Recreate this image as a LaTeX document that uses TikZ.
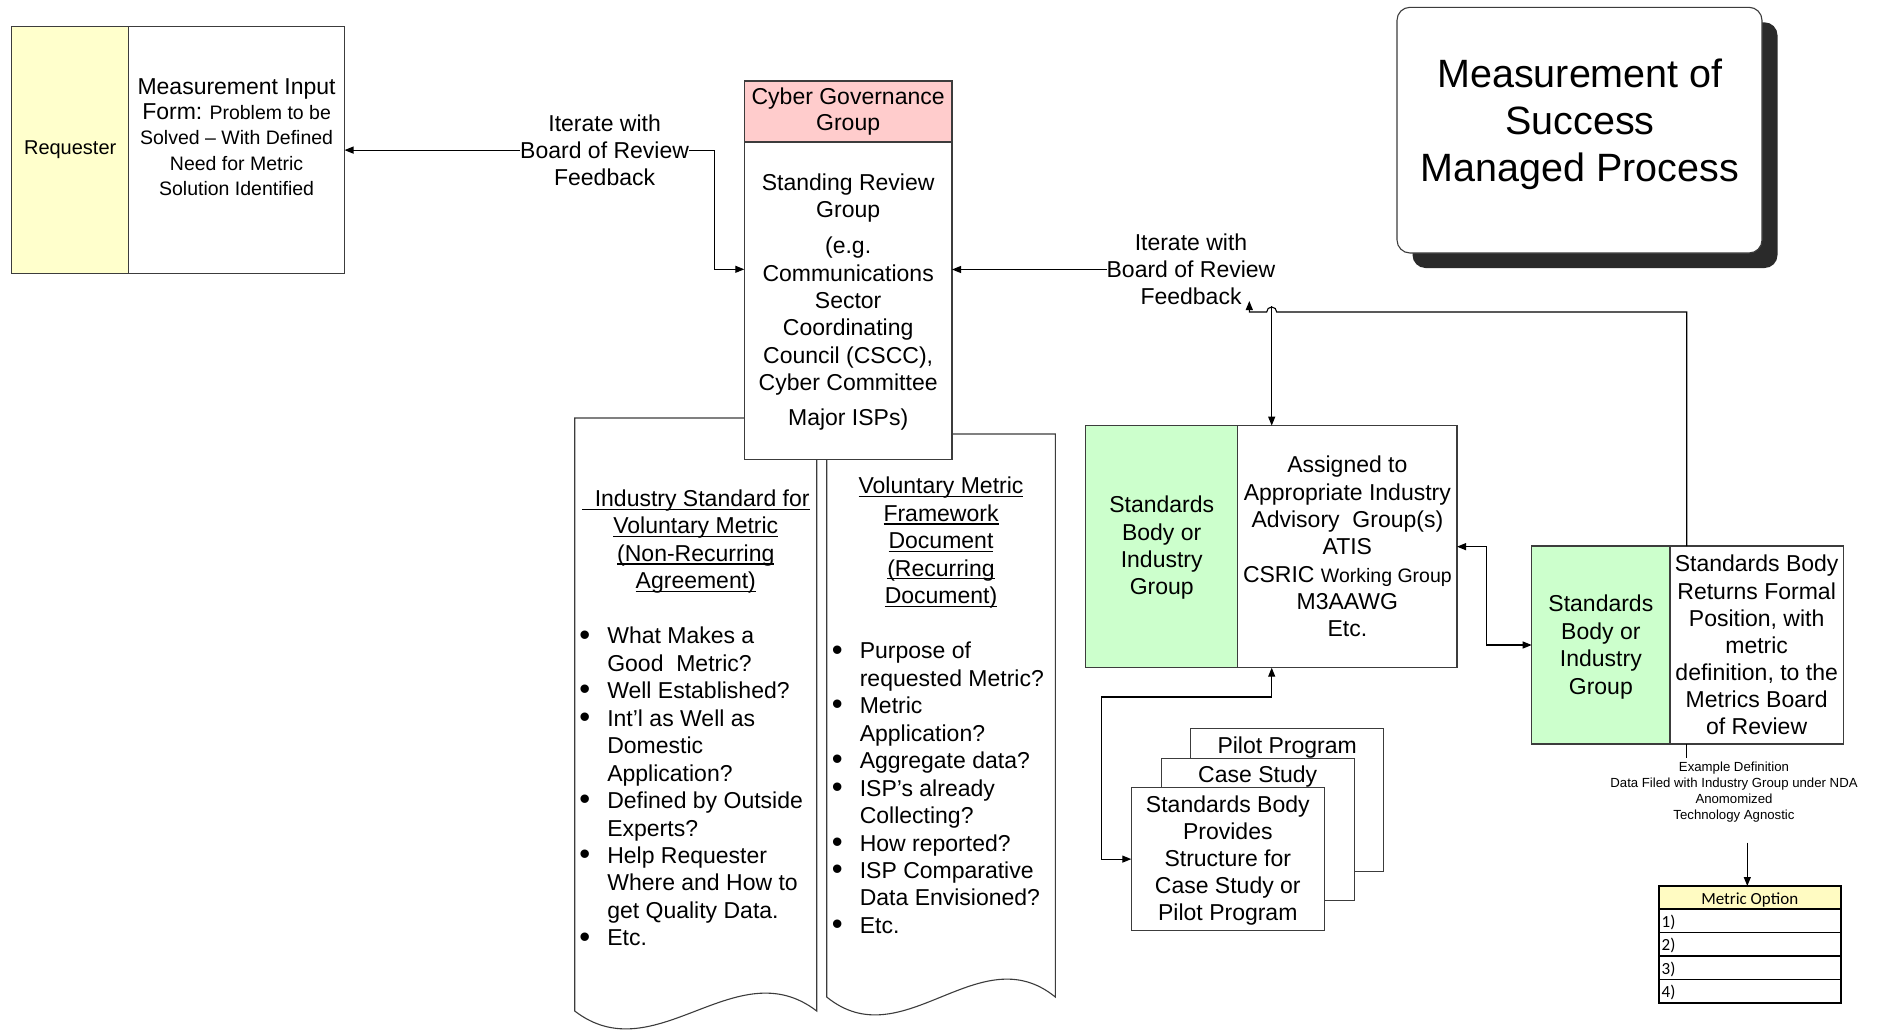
\documentclass[tikz,border=0pt]{standalone}
\usepackage{fontspec}
\setmainfont{Liberation Sans}
\newfontfamily\tablefont{Carlito}
\usetikzlibrary{arrows.meta,calc}

\definecolor{edge}{HTML}{3C3C3C}
\definecolor{reqyellow}{HTML}{FFFFCC}
\definecolor{govpink}{HTML}{FFCCCC}
\definecolor{stdgreen}{HTML}{CCFFCC}
\definecolor{optyellow}{HTML}{FFFBC2}
\definecolor{cardshadow}{HTML}{2A2A2A}

\newcommand\fsz[2]{\fontsize{#1}{#2}\selectfont}
\newcommand\bitem{\makebox[28pt][l]{\raisebox{-1.2pt}{\scalebox{1.35}{\textbullet}}}}
\newcommand\bcont{\hspace*{28pt}}
% underline at a fixed depth below the baseline
\newcommand\ulin[1]{\setbox0\hbox{#1}\rlap{\rule[-3.2pt]{\wd0}{1.1pt}}\box0}

\begin{document}
\begin{tikzpicture}[x=1pt,y=-1pt,
  every node/.style={inner sep=0pt, outer sep=0pt},
  cell/.style={draw=edge, line width=1.1pt, rectangle, align=center,
               font=\fsz{23}{27.3}},
  lbl/.style={align=center, font=\fsz{23}{27}, fill=white},
  body/.style={align=center, font=\fsz{23}{27.4}},
  list/.style={align=left, font=\fsz{23}{27.45}, anchor=north west},
  doc/.style={draw=edge, line width=1.1pt, fill=white},
  conn/.style={draw=black, line width=1.1pt},
  optrow/.style={draw=black, line width=1.6pt, minimum width=182pt,
                 minimum height=23.4pt, text width=176pt, align=left,
                 text height=14pt, text depth=1pt,
                 font=\tablefont\fsz{17}{20}},
  >={Triangle[length=9pt,width=7pt]}]

\useasboundingbox (0,0) rectangle (1877,1029);
\fill[white] (0,0) rectangle (1877,1029);

% ---- requester and input form
\node[cell, fill=reqyellow, minimum width=117pt, minimum height=246.8pt,
      font=\fsz{20}{24}] (req) at (70.2,150.1) {Requester};
\node[cell, minimum width=215.8pt, minimum height=246.8pt] (form) at (236.6,150.1) {};
\node[align=center, font=\fsz{19.5}{25.4}] (formtext) at (236.6,137)
  {{\fsz{23}{25.4}Measurement Input}\\
   {\fsz{23}{25.4}Form:} Problem to be\\
   Solved – With Defined\\
   Need for Metric\\
   Solution Identified};

% ---- two output documents (drawn before the governance box, which overlaps them)
\draw[doc] (574.7,418) -- (574.7,1011)
  .. controls (655.4,1073) and (736,949) .. (816.7,1011) -- (816.7,418) -- cycle;
\draw[doc] (826.7,434) -- (826.7,997)
  .. controls (902.9,1059) and (979.1,935) .. (1055.3,997) -- (1055.3,434) -- cycle;

\node[body] (docAtitle) at (695.8,541.7)
  {\ulin{\ \ Industry Standard for}\\\ulin{Voluntary Metric}\\
   \ulin{(Non-Recurring}\\\ulin{Agreement)}};
\node[list] (docAlist) at (579.3,627.2)
  {\bitem What Makes a\\
   \bcont Good\ \ Metric?\\
   \bitem Well Established?\\
   \bitem Int’l as Well as\\
   \bcont Domestic\\
   \bcont Application?\\
   \bitem Defined by Outside\\
   \bcont Experts?\\
   \bitem Help Requester\\
   \bcont Where and How to\\
   \bcont get Quality Data.\\
   \bitem Etc.};

\node[body] (docBtitle) at (941,542.8)
  {\ulin{Voluntary Metric}\\\ulin{Framework}\\\ulin{Document}\\
   \ulin{(Recurring}\\\ulin{Document)}};
\node[list] (docBlist) at (831.8,642.2)
  {\bitem Purpose of\\
   \bcont requested Metric?\\
   \bitem Metric\\
   \bcont Application?\\
   \bitem Aggregate data?\\
   \bitem ISP’s already\\
   \bcont Collecting?\\
   \bitem How reported?\\
   \bitem ISP Comparative\\
   \bcont Data Envisioned?\\
   \bitem Etc.};

% ---- governance group
\node[cell, fill=govpink, minimum width=207.7pt, minimum height=61pt,
      font=\fsz{23}{25.6}] (cgHead) at (848.15,111.5) {Cyber Governance\\Group};
\node[cell, fill=white, minimum width=207.7pt, minimum height=317.3pt] (cgBody)
  at (848.15,300.65) {};
\node[body, font=\fsz{23}{27.3}] (cgText) at (848.15,302)
  {Standing Review\\Group\\[9pt]
   (e.g.\\Communications\\Sector\\Coordinating\\Council (CSCC),\\Cyber Committee\\[8pt]
   Major ISPs)};

% ---- title card with drop shadow
\fill[cardshadow, rounded corners=13pt] (1412.5,22.3) rectangle (1777.5,268);
\node[draw=edge, line width=1.1pt, fill=white, rounded corners=13pt,
      minimum width=365pt, minimum height=245.7pt] (title) at (1579.5,130.15) {};
\node[align=center, font=\fsz{39.5}{47}] (titletext) at (1580,124.5)
  {Measurement of\\Success\\Managed Process};

% ---- industry advisory assignment
\node[cell, fill=stdgreen, minimum width=152pt, minimum height=242.1pt] (sbA)
  at (1161.7,546.65) {};
\node[body, font=\fsz{23}{27.4}] (sbAtext) at (1161.7,547.9) {Standards\\Body or\\Industry\\Group};
\node[cell, minimum width=219.3pt, minimum height=242.1pt] (assign) at (1347.35,546.65)
  {Assigned to\\Appropriate Industry\\Advisory\ \ Group(s)\\ATIS\\
   CSRIC {\fsz{19.5}{27.3}Working Group}\\M3AAWG\\Etc.};

% ---- formal position returned
\node[cell, fill=stdgreen, minimum width=138.3pt, minimum height=198pt] (retG)
  at (1600.85,645) {};
\node[body, font=\fsz{23}{27.6}] (retGtext) at (1600.85,647) {Standards\\Body or\\Industry\\Group};
\node[cell, minimum width=173.3pt, minimum height=198pt, font=\fsz{23}{27.1}] (ret)
  at (1756.65,645)
  {Standards Body\\Returns Formal\\Position, with\\metric\\definition, to the\\
   Metrics Board\\of Review};

% ---- stacked pilot / case study cards
\node[cell, fill=white, minimum width=193pt, minimum height=142.5pt] (pilot) at (1287.2,800) {};
\node[body] (pilottext) at (1287.2,747.5) {Pilot Program};
\node[cell, fill=white, minimum width=193pt, minimum height=142.5pt] (casestudy) at (1257.65,829.35) {};
\node[body] (casetext) at (1257.65,776.5) {Case Study};
\node[cell, fill=white, minimum width=193pt, minimum height=142.5pt] (provides) at (1227.8,859.1) {};
\node[body, font=\fsz{23}{27}] (providestext) at (1227.8,861)
  {Standards Body\\Provides\\Structure for\\Case Study or\\Pilot Program};

% ---- example definition note and metric option table
\node[align=center, font=\fsz{13.2}{16}] (note) at (1734,792.5)
  {Example Definition\\Data Filed with Industry Group under NDA\\Anomomized\\Technology Agnostic};
\node[draw=black, line width=1.6pt, fill=optyellow, minimum width=182pt, minimum height=23pt,
      text height=14pt, text depth=1pt,
      font=\tablefont\fsz{17}{20}] (optHead) at (1749.7,897.5) {Metric Option};
\node[optrow] (opt1) at (1749.7,920.85) {1)};
\node[optrow] (opt2) at (1749.7,944.35) {2)};
\node[optrow] (opt3) at (1749.7,967.65) {3)};
\node[optrow] (opt4) at (1749.7,991) {4)};

% ---- connectors
\coordinate (bendA) at (714.5,269.3);
\draw[conn,<->] (form.east) -- (form.east -| bendA) -- (bendA) -- (bendA -| cgBody.west);
\node[lbl] (lbl1) at (604.6,150) {Iterate with\\Board of Review\\Feedback};

\node[lbl] (lbl2) at (1191,269.5) {Iterate with\\Board of Review\\Feedback};
\draw[conn,->] (lbl2.west) -- (lbl2.west -| cgBody.east);

\coordinate (retTop) at ($(ret.north west)+(16.7,0)$);
\coordinate (hop) at (1271.7,312);
\coordinate (turnB) at (1249.3,312);
\coordinate (hopTop) at (1271.7,306);
\draw[conn,->] (retTop) -- (retTop |- hop) -- ($(hop)+(5,0)$)
  arc[start angle=0, end angle=180, radius=5pt] -- (turnB) -- ++(0,-11);
\draw[conn,->] (hopTop) -- (hopTop |- assign.north);

\coordinate (loopL) at (1101.7,697);
\draw[conn,<->] (provides.west) -| (loopL) -| (hopTop |- assign.south);

\draw[conn,<->] (assign.east) -- ++(29.3,0) |- (retG.west);

\draw[conn] (retTop |- ret.south) -- ++(0,14.3);
\draw[conn,->] ($(note.south -| optHead.north)+(-2.4,20)$) -- ($(optHead.north)+(-2.4,0)$);

\end{tikzpicture}
\end{document}
